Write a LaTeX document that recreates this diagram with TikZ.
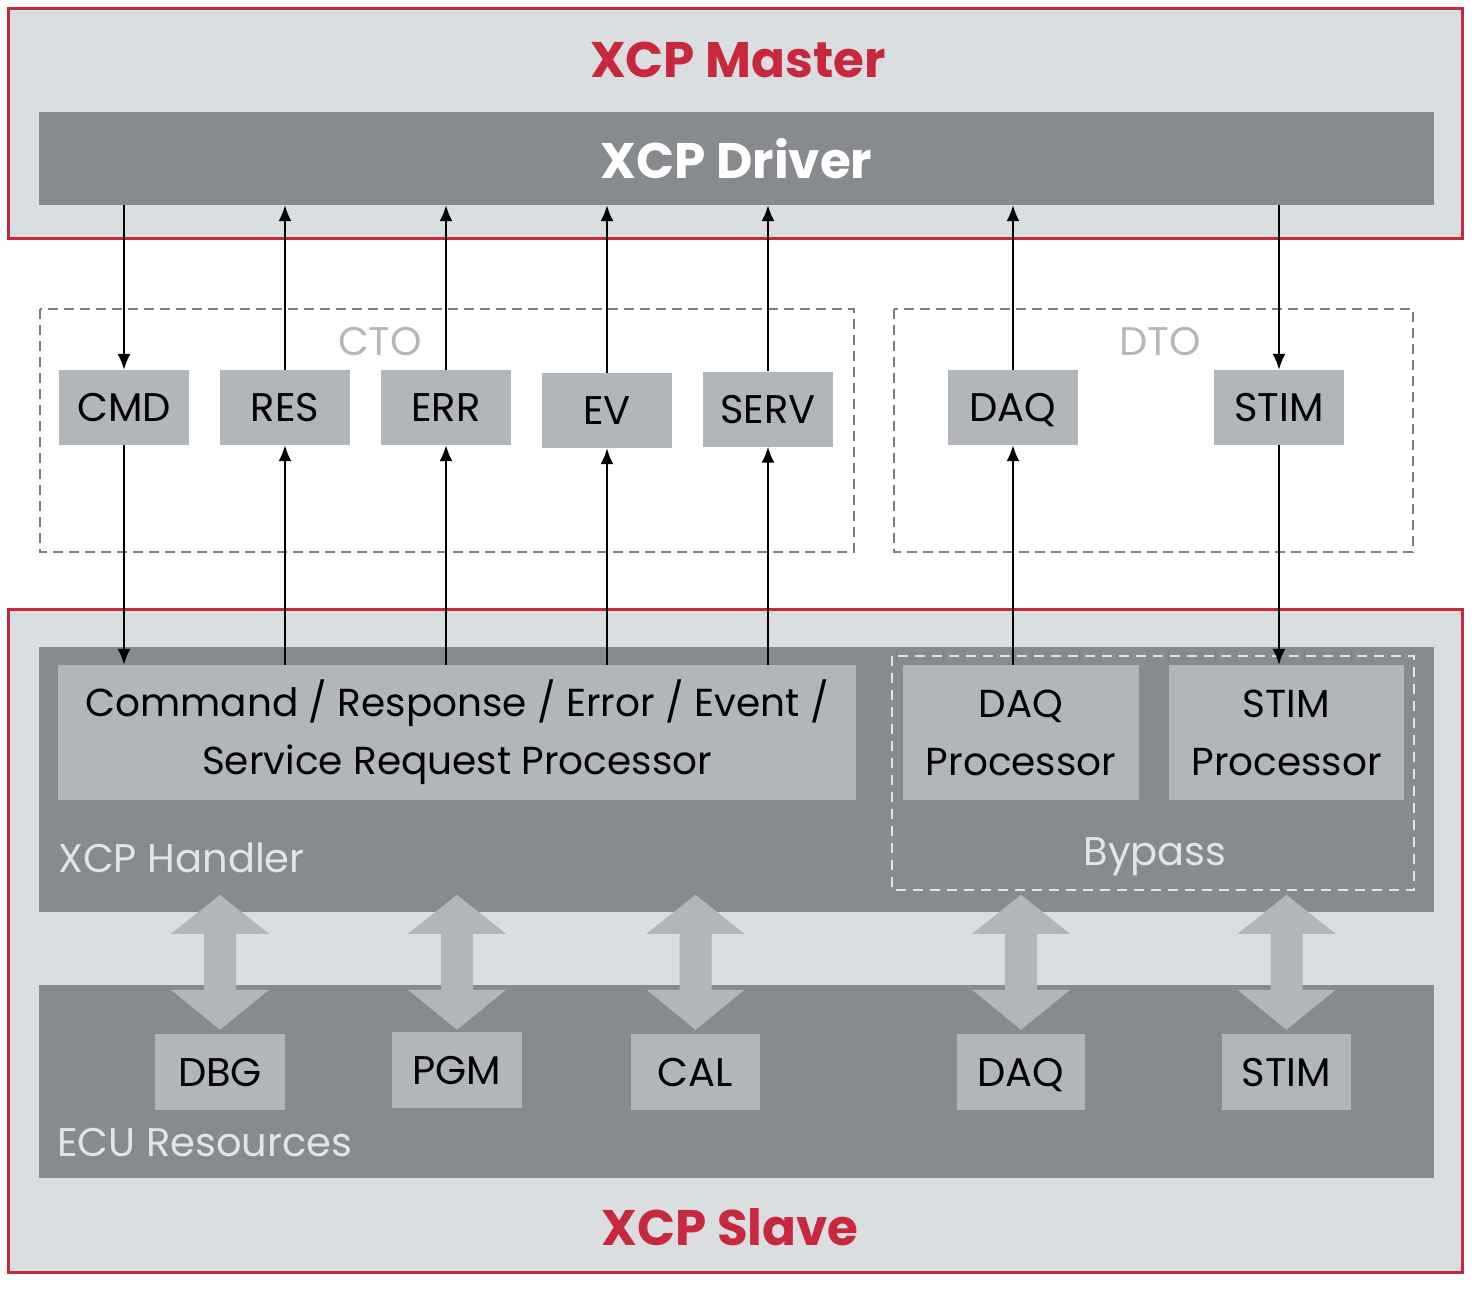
\documentclass[tikz,border=0pt]{standalone}
\usepackage{fontspec}
\setmainfont{Poppins}
\usetikzlibrary{arrows.meta}
\definecolor{xred}{HTML}{C8283C}
\definecolor{pale}{HTML}{DADEE1}
\definecolor{dark}{HTML}{878B8F}
\definecolor{mid}{HTML}{B2B6BA}
\definecolor{dashgray}{HTML}{7E7E7E}
\definecolor{lbl}{HTML}{B4B8BC}
\definecolor{lightlbl}{HTML}{E2E4E6}
\begin{document}
\begin{tikzpicture}[x=1pt,y=-1pt,
  frame/.style={draw=xred,line width=3pt,fill=pale},
  band/.style={fill=dark,inner sep=0pt},
  pkt/.style={fill=mid,inner sep=0pt,minimum width=130pt,minimum height=75pt,text height=28pt,text depth=0pt,font=\fontsize{40}{48}\selectfont},
  procbox/.style={fill=mid,inner sep=0pt,minimum height=135pt,align=center,font=\fontsize{39}{58}\selectfont},
  title/.style={text=xred,font=\fontsize{50}{60}\selectfont\bfseries},
  grouplbl/.style={text=lbl,font=\fontsize{40}{48}\selectfont},
  innerlbl/.style={text=lightlbl,font=\fontsize{40}{48}\selectfont},
  dashbox/.style={draw=dashgray,line width=2.5pt,dash pattern=on 10pt off 6pt},
  bydash/.style={draw=lightlbl,line width=2pt,dash pattern=on 10pt off 7pt},
  fatarrow/.style={fill=mid},
  conn/.style={-{Latex[length=16pt,width=13pt]},line width=2pt}]
\useasboundingbox (0,0) rectangle (1478,1288);
\fill[white] (0,0) rectangle (1478,1288);

% Master
\node[frame,minimum width=1454pt,minimum height=230pt,inner sep=0pt] (master) at (735,123) {};
\node[title] (mtitle) at (738,60) {XCP Master};
\node[band,minimum width=1395pt,minimum height=93pt,text=white,font=\fontsize{50}{60}\selectfont\bfseries] (drv) at (736.5,158.5) {XCP Driver};

% CTO / DTO groups
\draw[dashbox] (40,309) rectangle (854,552);
\node[grouplbl] (cto) at (380,342) {CTO};
\draw[dashbox] (894,309) rectangle (1413,552);
\node[grouplbl] (dto) at (1160,342) {DTO};

\node[pkt] (cmd) at (124,407.5) {CMD};
\node[pkt] (res) at (285,407.5) {RES};
\node[pkt] (err) at (446,407.5) {ERR};
\node[pkt] (ev) at (607,410.5) {EV};
\node[pkt] (serv) at (768,409) {SERV};
\node[pkt] (daq) at (1013,407.5) {DAQ};
\node[pkt] (stim) at (1279,407.5) {STIM};

% Slave
\node[frame,minimum width=1454pt,minimum height=663pt,inner sep=0pt] (slave) at (735,940.5) {};
\node[band,minimum width=1395pt,minimum height=265pt] (handler) at (736.5,779.5) {};
\node[band,minimum width=1395pt,minimum height=193pt] (ecu) at (736.5,1081.5) {};

\node[procbox,minimum width=798pt] (proc) at (457,732.5) {Command / Response / Error / Event /\\Service Request Processor};
\draw[bydash] (892,656) rectangle (1414,890);
\node[procbox,minimum width=236pt] (daqp) at (1021,732.5) {DAQ\\Processor};
\node[procbox,minimum width=235pt] (stimp) at (1286.5,732.5) {STIM\\Processor};
\node[innerlbl] (bypass) at (1155,857) {Bypass};
\node[innerlbl,anchor=west,inner sep=0pt] (hlbl) at (58,858) {XCP Handler};
\node[innerlbl,anchor=west,inner sep=0pt] (elbl) at (57,1143) {ECU Resources};

\node[pkt,minimum width=130pt,minimum height=76pt] (dbg) at (220,1072) {DBG};
\node[pkt,minimum width=130pt,minimum height=76pt] (pgm) at (457,1070) {PGM};
\node[pkt,minimum width=129pt,minimum height=76pt] (cal) at (695.5,1072) {CAL};
\node[pkt,minimum width=128pt,minimum height=76pt] (daqr) at (1021,1072) {DAQ};
\node[pkt,minimum width=129pt,minimum height=76pt] (stimr) at (1286.5,1072) {STIM};

% fat double arrows between handler and resources
\foreach \n in {dbg,pgm,cal,daqr,stimr}{
  \fill[fatarrow] (\n.north |- ecu.north) ++(0,45) -- ++(49,-40) -- ++(-33,0) -- ++(0,-56)
    -- ++(33,0) -- ++(-49,-39) -- ++(-49,39) -- ++(33,0) -- ++(0,56) -- ++(-33,0) -- cycle;
}

\node[title] (stitle) at (730,1227) {XCP Slave};

% thin connectors
\draw[conn] (cmd.north |- drv.south) -- (cmd.north);
\draw[conn] (cmd.south) -- (cmd.south |- proc.north);
\foreach \n in {res,err,ev,serv}{
  \draw[conn] (\n.north) -- (\n.north |- drv.south);
  \draw[conn] (\n.south |- proc.north) -- (\n.south);
}
\draw[conn] (daq.north) -- (daq.north |- drv.south);
\draw[conn] (daq.south |- daqp.north) -- (daq.south);
\draw[conn] (stim.north |- drv.south) -- (stim.north);
\draw[conn] (stim.south) -- (stim.south |- stimp.north);
\end{tikzpicture}
\end{document}
